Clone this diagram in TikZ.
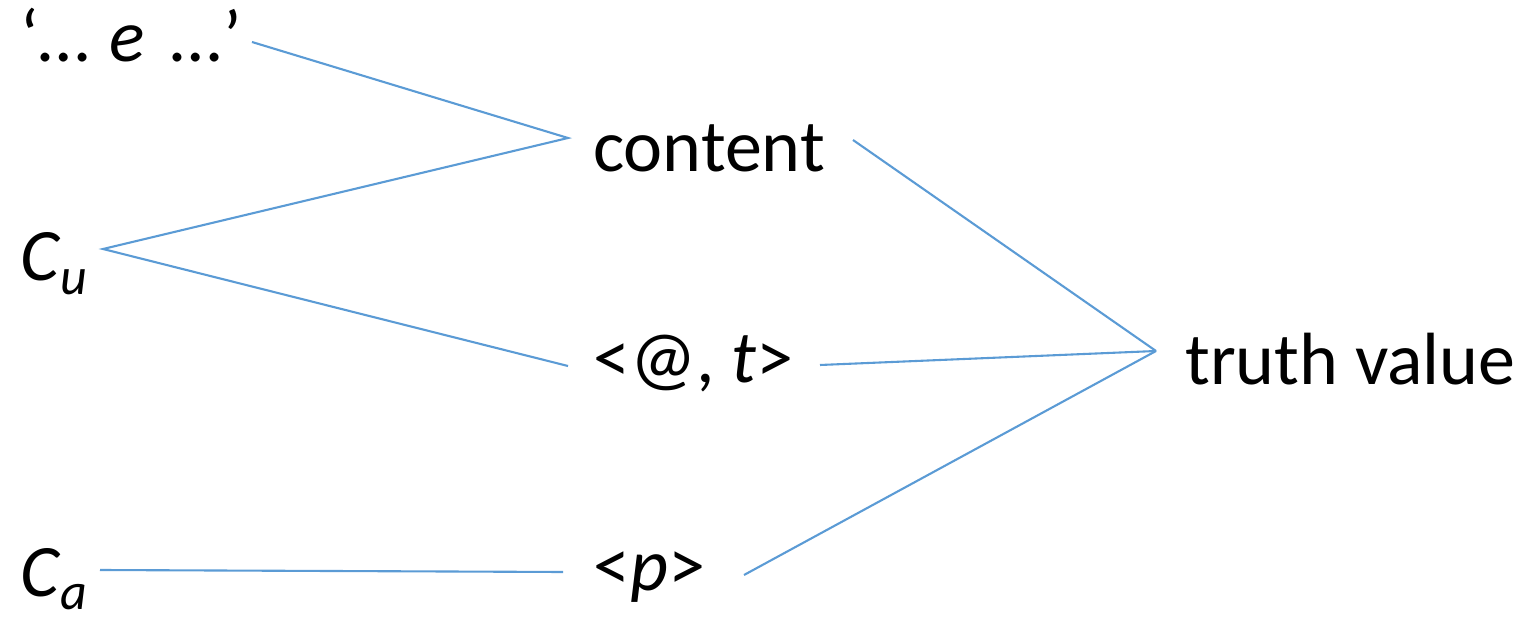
\documentclass[tikz,border=0pt]{standalone}
\usepackage{fontspec}
\setmainfont{Carlito}
\newcommand{\sbs}[1]{\raisebox{-0.18em}{\fontsize{52}{52}\selectfont\itshape #1}}
\begin{document}
\begin{tikzpicture}[x=1pt,y=-1pt,
  lbl/.style={anchor=base west,inner sep=0pt,font=\fontsize{74}{80}\selectfont},
  link/.style={draw={rgb,255:red,91;green,155;blue,213},line width=2.1pt}]
\useasboundingbox (0,0) rectangle (1527,617);

% terms and values
\node[lbl] (expr)  at (20,62)    {‘…\hspace{3pt} \textit{e}\hspace{9pt} …\hspace{2pt}’};
\node[lbl] (cu)    at (20,281)   {\textit{C}\sbs{u}};
\node[lbl] (ca)    at (20,596)   {\textit{C}\sbs{a}};
\node[lbl] (cont)  at (593,172)  {content};
\node[lbl] (index) at (593,383)  {<@, \textit{t}>};
\node[lbl] (prop)  at (593,590)  {<\textit{p}>};
\node[lbl] (truth) at (1185,385) {truth value};

% line ends beside the labels
\coordinate (exprR)  at (252,42);
\coordinate (cuR)    at (103,249);
\coordinate (caR)    at (100,570);
\coordinate (contL)  at (568,138);
\coordinate (contR)  at (853,140);
\coordinate (indexL) at (568,366);
\coordinate (indexR) at (820,365);
\coordinate (propL)  at (563,572);
\coordinate (propR)  at (744,575);
\coordinate (truthL) at (1156,351);

\draw[link] (exprR) -- (contL) -- (cuR) -- (indexL);
\draw[link] (caR) -- (propL);
\draw[link] (contR) -- (truthL);
\draw[link] (indexR) -- (truthL);
\draw[link] (propR) -- (truthL);
\end{tikzpicture}
\end{document}
